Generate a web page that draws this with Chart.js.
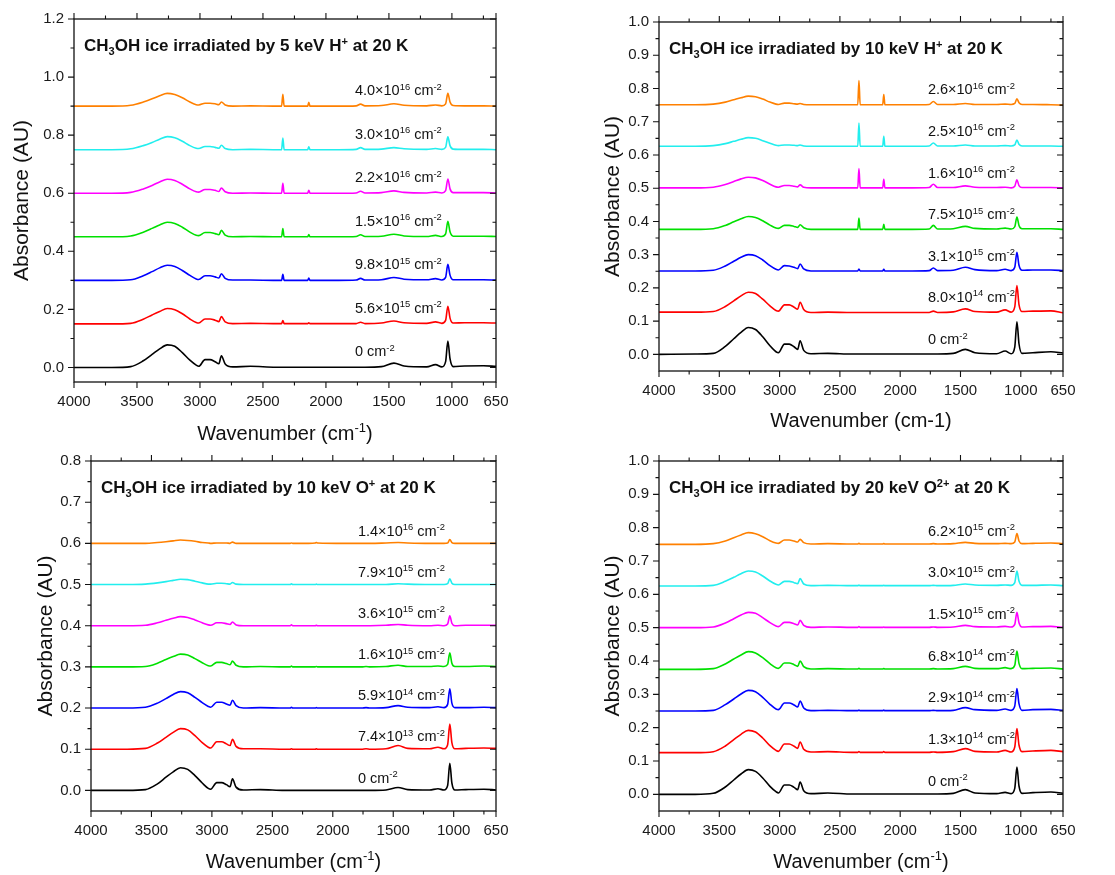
<!DOCTYPE html>
<html>
<head>
<meta charset="utf-8">
<title>CH3OH ice irradiation spectra</title>
<script src="https://cdn.jsdelivr.net/npm/chart.js@4.4.0/dist/chart.umd.min.js"></script>
<style>
  body { margin: 0; background: #fff; }
  canvas { position: absolute; }
</style>
</head>
<body>
<canvas id="h5" width="557" height="450" style="left:0;top:0"></canvas>
<canvas id="h10" width="558" height="450" style="left:557px;top:0"></canvas>
<canvas id="o10" width="557" height="438" style="left:0;top:437px"></canvas>
<canvas id="o20" width="558" height="438" style="left:557px;top:437px"></canvas>
<script>
// wavenumber grid (cm-1), shared by every spectrum
var WN = [4000, 3700, 3550, 3450, 3380, 3320, 3260, 3200, 3140, 3080, 3030, 3010,
  2960, 2920, 2880, 2850, 2830, 2800, 2740, 2600, 2400, 2352, 2342, 2332,
  2200, 2145, 2136, 2127, 1900, 1760, 1725, 1690, 1560, 1460, 1380, 1200,
  1130, 1080, 1050, 1032, 1015, 990, 900, 750, 650];

var X_TICKS = [4000, 3500, 3000, 2500, 2000, 1500, 1000, 650];
var X_MINOR = [3750, 3250, 2750, 2250, 1750, 1250, 750];

var SERIES_COLORS = ['#000000', '#ff0000', '#0000ff', '#00e000', '#ff00ff', '#22eeee', '#ff8000'];

// ---- 5 keV H+ ----
var H5_LABELS = ['0 cm^{-2}', '5.6×10^{15} cm^{-2}', '9.8×10^{15} cm^{-2}', '1.5×10^{16} cm^{-2}',
  '2.2×10^{16} cm^{-2}', '3.0×10^{16} cm^{-2}', '4.0×10^{16} cm^{-2}'];
var H5_YTICKS = [0.0, 0.2, 0.4, 0.6, 0.8, 1.0, 1.2];
var H5_0 = [0.000, 0.000, 0.003, 0.023, 0.045, 0.064, 0.078, 0.073, 0.051, 0.025, 0.008, 0.004,
  0.027, 0.027, 0.020, 0.013, 0.040, 0.012, 0.002, 0.004, 0.001, 0.001, 0.001, 0.001,
  0.001, 0.001, 0.001, 0.001, 0.001, 0.001, 0.001, 0.001, 0.003, 0.015, 0.005, 0.002,
  0.010, 0.002, 0.020, 0.091, 0.030, 0.003, 0.005, 0.006, 0.004];
var H5_1 = [0.150, 0.150, 0.152, 0.166, 0.181, 0.193, 0.203, 0.199, 0.185, 0.167, 0.155, 0.153,
  0.167, 0.167, 0.163, 0.158, 0.175, 0.157, 0.151, 0.152, 0.151, 0.151, 0.162, 0.151,
  0.151, 0.151, 0.154, 0.151, 0.151, 0.151, 0.156, 0.151, 0.153, 0.160, 0.154, 0.152,
  0.157, 0.152, 0.162, 0.211, 0.170, 0.153, 0.154, 0.154, 0.153];
var H5_2 = [0.300, 0.300, 0.302, 0.316, 0.330, 0.343, 0.352, 0.348, 0.334, 0.317, 0.305, 0.303,
  0.316, 0.316, 0.312, 0.308, 0.323, 0.307, 0.301, 0.301, 0.300, 0.300, 0.321, 0.300,
  0.300, 0.300, 0.308, 0.300, 0.300, 0.301, 0.307, 0.301, 0.302, 0.310, 0.304, 0.302,
  0.306, 0.301, 0.310, 0.355, 0.318, 0.302, 0.302, 0.302, 0.301];
var H5_3 = [0.450, 0.450, 0.453, 0.466, 0.479, 0.491, 0.500, 0.496, 0.483, 0.466, 0.455, 0.454,
  0.465, 0.465, 0.461, 0.457, 0.472, 0.456, 0.450, 0.451, 0.450, 0.450, 0.478, 0.450,
  0.450, 0.450, 0.458, 0.450, 0.450, 0.451, 0.457, 0.451, 0.452, 0.459, 0.453, 0.451,
  0.455, 0.451, 0.460, 0.503, 0.467, 0.452, 0.452, 0.452, 0.451];
var H5_4 = [0.600, 0.600, 0.603, 0.615, 0.627, 0.639, 0.648, 0.644, 0.631, 0.615, 0.605, 0.604,
  0.613, 0.613, 0.610, 0.606, 0.618, 0.605, 0.600, 0.601, 0.600, 0.600, 0.634, 0.600,
  0.600, 0.600, 0.610, 0.600, 0.600, 0.601, 0.607, 0.601, 0.602, 0.608, 0.603, 0.601,
  0.604, 0.601, 0.609, 0.649, 0.615, 0.602, 0.602, 0.602, 0.601];
var H5_5 = [0.750, 0.750, 0.753, 0.764, 0.775, 0.786, 0.795, 0.791, 0.779, 0.764, 0.755, 0.754,
  0.761, 0.761, 0.758, 0.755, 0.765, 0.754, 0.750, 0.751, 0.750, 0.750, 0.790, 0.750,
  0.750, 0.750, 0.760, 0.750, 0.750, 0.751, 0.757, 0.751, 0.752, 0.757, 0.753, 0.751,
  0.754, 0.751, 0.758, 0.794, 0.764, 0.752, 0.751, 0.751, 0.750];
var H5_6 = [0.900, 0.900, 0.903, 0.914, 0.925, 0.936, 0.944, 0.940, 0.929, 0.914, 0.905, 0.904,
  0.910, 0.910, 0.908, 0.905, 0.914, 0.904, 0.900, 0.901, 0.900, 0.900, 0.941, 0.900,
  0.900, 0.900, 0.913, 0.900, 0.900, 0.901, 0.907, 0.901, 0.902, 0.908, 0.903, 0.901,
  0.904, 0.901, 0.908, 0.944, 0.914, 0.902, 0.901, 0.901, 0.900];

// ---- 10 keV H+ ----
var H10_LABELS = ['0 cm^{-2}', '8.0×10^{14} cm^{-2}', '3.1×10^{15} cm^{-2}', '7.5×10^{15} cm^{-2}',
  '1.6×10^{16} cm^{-2}', '2.5×10^{16} cm^{-2}', '2.6×10^{16} cm^{-2}'];
var H10_YTICKS = [0.0, 0.1, 0.2, 0.3, 0.4, 0.5, 0.6, 0.7, 0.8, 0.9, 1.0];
var H10_0 = [0.000, 0.001, 0.003, 0.024, 0.047, 0.066, 0.081, 0.075, 0.053, 0.026, 0.008, 0.005,
  0.031, 0.031, 0.023, 0.015, 0.041, 0.012, 0.002, 0.003, 0.001, 0.001, 0.001, 0.001,
  0.001, 0.001, 0.001, 0.001, 0.001, 0.001, 0.001, 0.001, 0.003, 0.015, 0.005, 0.002,
  0.010, 0.002, 0.022, 0.098, 0.032, 0.003, 0.005, 0.008, 0.004];
var H10_1 = [0.127, 0.127, 0.129, 0.144, 0.161, 0.176, 0.187, 0.183, 0.166, 0.146, 0.132, 0.130,
  0.149, 0.149, 0.142, 0.136, 0.157, 0.135, 0.126, 0.127, 0.126, 0.126, 0.126, 0.126,
  0.126, 0.126, 0.126, 0.126, 0.126, 0.126, 0.130, 0.126, 0.128, 0.137, 0.129, 0.127,
  0.134, 0.127, 0.143, 0.207, 0.150, 0.129, 0.130, 0.131, 0.125];
var H10_2 = [0.251, 0.251, 0.253, 0.266, 0.280, 0.292, 0.300, 0.297, 0.284, 0.267, 0.256, 0.254,
  0.267, 0.266, 0.262, 0.258, 0.272, 0.257, 0.251, 0.251, 0.251, 0.251, 0.257, 0.251,
  0.251, 0.251, 0.256, 0.251, 0.251, 0.252, 0.260, 0.252, 0.253, 0.262, 0.255, 0.252,
  0.256, 0.252, 0.262, 0.307, 0.268, 0.253, 0.254, 0.254, 0.252];
var H10_3 = [0.376, 0.376, 0.378, 0.388, 0.399, 0.408, 0.415, 0.412, 0.402, 0.389, 0.380, 0.379,
  0.388, 0.388, 0.385, 0.382, 0.390, 0.381, 0.376, 0.376, 0.376, 0.376, 0.410, 0.376,
  0.376, 0.376, 0.391, 0.376, 0.376, 0.377, 0.388, 0.377, 0.378, 0.385, 0.379, 0.377,
  0.380, 0.377, 0.384, 0.413, 0.388, 0.378, 0.378, 0.378, 0.376];
var H10_4 = [0.501, 0.501, 0.503, 0.511, 0.520, 0.528, 0.533, 0.531, 0.523, 0.512, 0.504, 0.503,
  0.508, 0.508, 0.506, 0.504, 0.510, 0.503, 0.501, 0.501, 0.501, 0.501, 0.559, 0.501,
  0.501, 0.501, 0.527, 0.501, 0.501, 0.502, 0.512, 0.502, 0.502, 0.507, 0.503, 0.502,
  0.503, 0.501, 0.506, 0.525, 0.508, 0.502, 0.502, 0.502, 0.501];
var H10_5 = [0.626, 0.626, 0.628, 0.634, 0.641, 0.647, 0.652, 0.650, 0.643, 0.635, 0.629, 0.628,
  0.630, 0.630, 0.629, 0.628, 0.630, 0.627, 0.626, 0.626, 0.626, 0.626, 0.696, 0.626,
  0.626, 0.626, 0.656, 0.626, 0.626, 0.627, 0.636, 0.627, 0.627, 0.630, 0.627, 0.627,
  0.628, 0.627, 0.630, 0.645, 0.632, 0.627, 0.627, 0.627, 0.626];
var H10_6 = [0.751, 0.751, 0.753, 0.759, 0.766, 0.772, 0.777, 0.775, 0.768, 0.759, 0.753, 0.752,
  0.756, 0.756, 0.754, 0.753, 0.755, 0.752, 0.751, 0.751, 0.751, 0.751, 0.824, 0.751,
  0.751, 0.751, 0.782, 0.751, 0.751, 0.752, 0.761, 0.752, 0.752, 0.755, 0.752, 0.752,
  0.753, 0.752, 0.755, 0.769, 0.757, 0.752, 0.752, 0.751, 0.750];

// ---- 10 keV O+ ----
var O10_LABELS = ['0 cm^{-2}', '7.4×10^{13} cm^{-2}', '5.9×10^{14} cm^{-2}', '1.6×10^{15} cm^{-2}',
  '3.6×10^{15} cm^{-2}', '7.9×10^{15} cm^{-2}', '1.4×10^{16} cm^{-2}'];
var O10_YTICKS = [0.0, 0.1, 0.2, 0.3, 0.4, 0.5, 0.6, 0.7, 0.8];
var O10_0 = [0.000, 0.000, 0.002, 0.016, 0.032, 0.045, 0.055, 0.051, 0.036, 0.018, 0.005, 0.003,
  0.019, 0.019, 0.014, 0.009, 0.028, 0.008, 0.001, 0.002, 0.000, 0.000, 0.000, 0.000,
  0.000, 0.000, 0.000, 0.000, 0.000, 0.000, 0.000, 0.000, 0.001, 0.007, 0.002, 0.001,
  0.004, 0.001, 0.012, 0.066, 0.018, 0.001, 0.002, 0.003, 0.001];
var O10_1 = [0.100, 0.100, 0.102, 0.115, 0.129, 0.141, 0.150, 0.147, 0.133, 0.116, 0.105, 0.103,
  0.118, 0.118, 0.113, 0.109, 0.124, 0.107, 0.101, 0.101, 0.100, 0.100, 0.101, 0.100,
  0.100, 0.100, 0.101, 0.100, 0.100, 0.100, 0.101, 0.100, 0.101, 0.109, 0.102, 0.101,
  0.105, 0.101, 0.111, 0.161, 0.116, 0.101, 0.102, 0.103, 0.102];
var O10_2 = [0.200, 0.200, 0.202, 0.212, 0.223, 0.233, 0.240, 0.237, 0.226, 0.213, 0.204, 0.202,
  0.214, 0.214, 0.210, 0.207, 0.219, 0.206, 0.200, 0.201, 0.200, 0.200, 0.202, 0.200,
  0.200, 0.200, 0.201, 0.200, 0.200, 0.200, 0.201, 0.200, 0.201, 0.206, 0.202, 0.201,
  0.203, 0.201, 0.209, 0.247, 0.212, 0.201, 0.201, 0.202, 0.201];
var O10_3 = [0.300, 0.300, 0.301, 0.309, 0.318, 0.325, 0.331, 0.329, 0.320, 0.310, 0.303, 0.302,
  0.311, 0.311, 0.308, 0.305, 0.314, 0.304, 0.300, 0.301, 0.300, 0.300, 0.302, 0.300,
  0.300, 0.300, 0.301, 0.300, 0.300, 0.300, 0.301, 0.300, 0.301, 0.304, 0.301, 0.301,
  0.302, 0.301, 0.306, 0.334, 0.309, 0.301, 0.301, 0.302, 0.301];
var O10_4 = [0.400, 0.400, 0.401, 0.407, 0.413, 0.418, 0.422, 0.420, 0.414, 0.407, 0.402, 0.401,
  0.407, 0.407, 0.405, 0.403, 0.409, 0.402, 0.400, 0.400, 0.400, 0.400, 0.402, 0.400,
  0.400, 0.400, 0.401, 0.400, 0.400, 0.400, 0.400, 0.400, 0.401, 0.403, 0.401, 0.400,
  0.401, 0.400, 0.404, 0.424, 0.406, 0.400, 0.401, 0.401, 0.401];
var O10_5 = [0.500, 0.500, 0.501, 0.504, 0.507, 0.510, 0.513, 0.512, 0.508, 0.504, 0.501, 0.501,
  0.503, 0.503, 0.502, 0.501, 0.505, 0.501, 0.500, 0.500, 0.500, 0.500, 0.502, 0.500,
  0.500, 0.500, 0.501, 0.500, 0.500, 0.500, 0.500, 0.500, 0.500, 0.502, 0.501, 0.500,
  0.500, 0.500, 0.502, 0.514, 0.503, 0.500, 0.500, 0.500, 0.500];
var O10_6 = [0.600, 0.600, 0.600, 0.602, 0.604, 0.606, 0.608, 0.607, 0.605, 0.602, 0.601, 0.600,
  0.601, 0.601, 0.601, 0.600, 0.603, 0.600, 0.600, 0.600, 0.600, 0.600, 0.601, 0.600,
  0.600, 0.601, 0.602, 0.601, 0.600, 0.600, 0.600, 0.600, 0.601, 0.602, 0.601, 0.600,
  0.600, 0.600, 0.601, 0.609, 0.602, 0.600, 0.600, 0.600, 0.600];

// ---- 20 keV O2+ ----
var O20_LABELS = ['0 cm^{-2}', '1.3×10^{14} cm^{-2}', '2.9×10^{14} cm^{-2}', '6.8×10^{14} cm^{-2}',
  '1.5×10^{15} cm^{-2}', '3.0×10^{15} cm^{-2}', '6.2×10^{15} cm^{-2}'];
var O20_YTICKS = [0.0, 0.1, 0.2, 0.3, 0.4, 0.5, 0.6, 0.7, 0.8, 0.9, 1.0];
var O20_0 = [0.000, 0.000, 0.003, 0.022, 0.043, 0.061, 0.074, 0.069, 0.049, 0.024, 0.008, 0.004,
  0.028, 0.028, 0.021, 0.014, 0.037, 0.011, 0.002, 0.004, 0.001, 0.001, 0.001, 0.001,
  0.001, 0.001, 0.001, 0.001, 0.001, 0.001, 0.001, 0.001, 0.003, 0.014, 0.004, 0.002,
  0.006, 0.002, 0.018, 0.082, 0.025, 0.003, 0.005, 0.007, 0.003];
var O20_1 = [0.125, 0.125, 0.128, 0.145, 0.164, 0.180, 0.192, 0.187, 0.169, 0.146, 0.132, 0.129,
  0.151, 0.151, 0.144, 0.138, 0.157, 0.135, 0.127, 0.128, 0.126, 0.126, 0.128, 0.126,
  0.126, 0.126, 0.128, 0.126, 0.126, 0.126, 0.127, 0.126, 0.128, 0.137, 0.129, 0.127,
  0.132, 0.127, 0.142, 0.197, 0.148, 0.128, 0.130, 0.132, 0.128];
var O20_2 = [0.250, 0.250, 0.252, 0.269, 0.286, 0.301, 0.312, 0.308, 0.291, 0.270, 0.256, 0.254,
  0.274, 0.274, 0.268, 0.262, 0.280, 0.259, 0.251, 0.252, 0.251, 0.251, 0.253, 0.251,
  0.251, 0.251, 0.253, 0.251, 0.251, 0.251, 0.252, 0.251, 0.252, 0.260, 0.254, 0.252,
  0.256, 0.252, 0.265, 0.317, 0.272, 0.252, 0.254, 0.255, 0.252];
var O20_3 = [0.375, 0.375, 0.377, 0.391, 0.406, 0.418, 0.428, 0.424, 0.410, 0.392, 0.380, 0.378,
  0.394, 0.394, 0.389, 0.384, 0.400, 0.383, 0.376, 0.377, 0.376, 0.376, 0.378, 0.376,
  0.376, 0.376, 0.377, 0.376, 0.376, 0.376, 0.377, 0.376, 0.377, 0.384, 0.378, 0.377,
  0.380, 0.377, 0.387, 0.430, 0.393, 0.377, 0.378, 0.379, 0.376];
var O20_4 = [0.500, 0.500, 0.502, 0.514, 0.527, 0.538, 0.546, 0.543, 0.530, 0.515, 0.505, 0.503,
  0.516, 0.516, 0.512, 0.508, 0.522, 0.507, 0.501, 0.502, 0.501, 0.501, 0.503, 0.501,
  0.501, 0.501, 0.502, 0.501, 0.501, 0.501, 0.502, 0.501, 0.502, 0.507, 0.503, 0.502,
  0.504, 0.502, 0.510, 0.546, 0.515, 0.502, 0.503, 0.504, 0.501];
var O20_5 = [0.625, 0.625, 0.627, 0.639, 0.651, 0.662, 0.670, 0.667, 0.655, 0.640, 0.630, 0.628,
  0.639, 0.639, 0.635, 0.632, 0.647, 0.631, 0.626, 0.627, 0.626, 0.626, 0.628, 0.626,
  0.626, 0.626, 0.627, 0.626, 0.626, 0.626, 0.627, 0.626, 0.627, 0.631, 0.628, 0.627,
  0.628, 0.627, 0.635, 0.670, 0.640, 0.627, 0.627, 0.628, 0.626];
var O20_6 = [0.750, 0.750, 0.752, 0.760, 0.770, 0.778, 0.785, 0.782, 0.773, 0.761, 0.754, 0.753,
  0.763, 0.763, 0.760, 0.757, 0.765, 0.755, 0.751, 0.752, 0.751, 0.751, 0.753, 0.751,
  0.751, 0.751, 0.752, 0.751, 0.751, 0.751, 0.752, 0.751, 0.752, 0.756, 0.753, 0.752,
  0.753, 0.752, 0.757, 0.782, 0.760, 0.752, 0.753, 0.754, 0.752];

var FONT = '"Liberation Sans", Arial, sans-serif';

// split "CH_{3}OH" / "10^{16}" into normal, subscript and superscript pieces
function richSegments(str) {
  var out = [], re = /([_^])\{([^}]*)\}/g, last = 0, m;
  while ((m = re.exec(str))) {
    if (m.index > last) out.push({ t: str.slice(last, m.index), k: '' });
    out.push({ t: m[2], k: m[1] });
    last = re.lastIndex;
  }
  if (last < str.length) out.push({ t: str.slice(last), k: '' });
  return out;
}

function drawRich(ctx, str, x, y, size, weight, align) {
  var segs = richSegments(str);
  var total = 0;
  segs.forEach(function (s) {
    ctx.font = weight + ' ' + (s.k ? size * 0.65 : size) + 'px ' + FONT;
    s.w = ctx.measureText(s.t).width;
    total += s.w;
  });
  var cx = align === 'center' ? x - total / 2 : x;
  ctx.textAlign = 'left';
  ctx.textBaseline = 'alphabetic';
  segs.forEach(function (s) {
    ctx.font = weight + ' ' + (s.k ? size * 0.65 : size) + 'px ' + FONT;
    var dy = s.k === '^' ? -size * 0.38 : (s.k === '_' ? size * 0.22 : 0);
    ctx.fillText(s.t, cx, y + dy);
    cx += s.w;
  });
}

// frame, tick marks, titles and curve labels
var decorPlugin = {
  id: 'decor',
  afterDraw: function (chart) {
    var o = chart.options.plugins.decor;
    var ctx = chart.ctx, a = chart.chartArea;
    var xs = chart.scales.x, ys = chart.scales.y;
    ctx.save();
    ctx.strokeStyle = '#111';
    ctx.lineWidth = 1.3;
    ctx.strokeRect(a.left, a.top, a.right - a.left, a.bottom - a.top);

    ctx.lineWidth = 1.1;
    ctx.beginPath();
    function xTick(v, len) {
      var px = xs.getPixelForValue(v);
      ctx.moveTo(px, a.bottom); ctx.lineTo(px, a.bottom + len);
      ctx.moveTo(px, a.top); ctx.lineTo(px, a.top - len);
    }
    function yTick(v, len) {
      var py = ys.getPixelForValue(v);
      ctx.moveTo(a.left, py); ctx.lineTo(a.left - len, py);
      ctx.moveTo(a.right, py); ctx.lineTo(a.right - len, py);
    }
    X_TICKS.forEach(function (v) { xTick(v, 6); });
    X_MINOR.forEach(function (v) { xTick(v, 3.5); });
    o.yTicks.forEach(function (v, i) {
      yTick(v, 6);
      if (i < o.yTicks.length - 1) yTick((v + o.yTicks[i + 1]) / 2, 3.5);
    });
    ctx.stroke();

    ctx.fillStyle = '#111';
    drawRich(ctx, o.title, a.left + 10, a.top + 32, 17, 'bold', 'left');

    chart.data.datasets.forEach(function (ds, i) {
      var px = xs.getPixelForValue(o.labelWn);
      var py = ys.getPixelForValue(ds.data[0].y + o.labelDy);
      drawRich(ctx, o.labels[i], px, py, 14.5, 'normal', 'left');
    });

    drawRich(ctx, o.xTitle, (a.left + a.right) / 2, a.bottom + o.xTitleDy, 20, 'normal', 'center');
    ctx.translate(a.left + o.yTitleDx, (a.top + a.bottom) / 2);
    ctx.rotate(-Math.PI / 2);
    drawRich(ctx, 'Absorbance (AU)', 0, 21 * 0.35, 21, 'normal', 'center');
    ctx.restore();
  }
};

function makePanel(id, series, labels, yTicks, yMax, layout, text) {
  var datasets = series.map(function (vals, i) {
    return {
      data: WN.map(function (w, j) { return { x: w, y: vals[j] }; }),
      borderColor: SERIES_COLORS[i],
      borderWidth: 1.6,
      pointRadius: 0,
      cubicInterpolationMode: 'monotone',
      fill: false
    };
  });
  return new Chart(document.getElementById(id).getContext('2d'), {
    type: 'line',
    data: { datasets: datasets },
    options: {
      responsive: false,
      animation: false,
      devicePixelRatio: 1,
      layout: { padding: { left: 0, right: layout.padR, top: layout.padT, bottom: 0 } },
      plugins: {
        legend: { display: false },
        tooltip: { enabled: false },
        decor: {
          title: text.title,
          xTitle: text.xTitle,
          labels: labels,
          yTicks: yTicks,
          labelWn: text.labelWn,
          labelDy: text.labelDy,
          xTitleDy: text.xTitleDy,
          yTitleDx: text.yTitleDx
        }
      },
      scales: {
        x: {
          type: 'linear',
          reverse: true,
          min: 650,
          max: 4000,
          grid: { display: false, drawTicks: false },
          border: { display: false },
          afterBuildTicks: function (s) { s.ticks = X_TICKS.map(function (v) { return { value: v }; }); },
          afterFit: function (s) { s.height = layout.xh; },
          ticks: {
            autoSkip: false, maxRotation: 0, padding: 11, color: '#1a1a1a',
            font: { family: FONT, size: 15 },
            callback: function (v) { return String(v); }
          }
        },
        y: {
          type: 'linear',
          min: -0.05,
          max: yMax,
          grid: { display: false, drawTicks: false },
          border: { display: false },
          afterBuildTicks: function (s) { s.ticks = yTicks.map(function (v) { return { value: v }; }); },
          afterFit: function (s) { s.width = layout.yw; },
          ticks: {
            padding: 10, color: '#1a1a1a',
            font: { family: FONT, size: 15 },
            callback: function (v) { return v.toFixed(1); }
          }
        }
      }
    },
    plugins: [decorPlugin]
  });
}

makePanel('h5', [H5_0, H5_1, H5_2, H5_3, H5_4, H5_5, H5_6], H5_LABELS, H5_YTICKS, 1.2,
  { padR: 61, padT: 18, xh: 68, yw: 74 },
  { title: 'CH_{3}OH ice irradiated by 5 keV H^{+} at 20 K', xTitle: 'Wavenumber (cm^{-1})',
    labelWn: 1770, labelDy: 0.038, xTitleDy: 58, yTitleDx: -53 });

makePanel('h10', [H10_0, H10_1, H10_2, H10_3, H10_4, H10_5, H10_6], H10_LABELS, H10_YTICKS, 1.0,
  { padR: 52, padT: 22, xh: 79, yw: 102 },
  { title: 'CH_{3}OH ice irradiated by 10 keV H^{+} at 20 K', xTitle: 'Wavenumber (cm-1)',
    labelWn: 1770, labelDy: 0.031, xTitleDy: 56, yTitleDx: -47 });

makePanel('o10', [O10_0, O10_1, O10_2, O10_3, O10_4, O10_5, O10_6], O10_LABELS, O10_YTICKS, 0.8,
  { padR: 61, padT: 24, xh: 64, yw: 91 },
  { title: 'CH_{3}OH ice irradiated by 10 keV O^{+} at 20 K', xTitle: 'Wavenumber (cm^{-1})',
    labelWn: 1792, labelDy: 0.019, xTitleDy: 57, yTitleDx: -46 });

makePanel('o20', [O20_0, O20_1, O20_2, O20_3, O20_4, O20_5, O20_6], O20_LABELS, O20_YTICKS, 1.0,
  { padR: 52, padT: 24, xh: 64, yw: 102 },
  { title: 'CH_{3}OH ice irradiated by 20 keV O^{2+} at 20 K', xTitle: 'Wavenumber (cm^{-1})',
    labelWn: 1770, labelDy: 0.026, xTitleDy: 57, yTitleDx: -47 });
</script>
</body>
</html>
